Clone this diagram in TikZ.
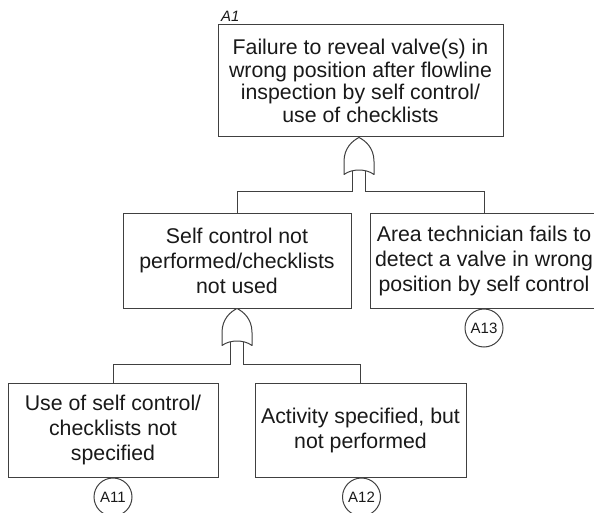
\documentclass[tikz,border=0pt]{standalone}
\usepackage{fontspec}
\setmainfont{Liberation Sans}
\usetikzlibrary{calc}
\begin{document}
\begin{tikzpicture}[x=1pt,y=-1pt,
  line width=1pt,
  event/.style={draw=black!75, fill=white, align=center, inner sep=0pt,
    text=black!90, font=\fontsize{21.3}{25}\selectfont},
  transfer/.style={draw=black!75, circle, minimum size=38pt, inner sep=0pt,
    text=black!90, font=\fontsize{15}{15}\selectfont},
  wire/.style={draw=black!75},
  gatebody/.style={draw=black!75, fill=white, line join=round}]
\useasboundingbox (0,0) rectangle (594,513);

% OR gate: apex at #1, outputs two stem coordinates #2 (left) and #3 (right)
\newcommand{\orgate}[3]{%
  \draw[gatebody] ($(#1)+(-15,37)$) -- ($(#1)+(-15,24)$)
    .. controls ($(#1)+(-15,10)$) and ($(#1)+(-6,3)$) .. (#1)
    .. controls ($(#1)+(6,3)$) and ($(#1)+(15,10)$) .. ($(#1)+(15,24)$)
    -- ($(#1)+(15,37)$)
    .. controls ($(#1)+(7,31)$) and ($(#1)+(-7,31)$) .. cycle;
  \coordinate (#2) at ($(#1)+(-6.5,33.5)$);
  \coordinate (#3) at ($(#1)+(6.5,33.5)$);}

% events
\node[event, font=\fontsize{21.3}{22.5}\selectfont, minimum width=285pt, minimum height=112pt] (top) at (360.5,81)
  {Failure to reveal valve(s) in\\wrong position after flowline\\inspection by self control/\\use of checklists};
\node[font=\fontsize{15}{15}\selectfont\itshape, text=black!90, anchor=south west, inner sep=0pt]
  (lblA1) at ($(top.north west)+(3,-2)$) {A1};

\node[event, minimum width=228pt, minimum height=95pt] (ml) at (237,260.5)
  {Self control not\\performed/checklists\\not used};
\node[event, minimum width=228pt, minimum height=95pt] (mr) at (484,260.5)
  {Area technician fails to\\detect a valve in wrong\\position by self control};

\node[event, minimum width=210pt, minimum height=94pt] (bl) at (113,430)
  {Use of self control/\\checklists not\\specified};
\node[event, minimum width=211pt, minimum height=94pt] (br) at (360.5,430)
  {Activity specified, but\\not performed};

% transfer symbols
\node[transfer, anchor=north] (tA13) at (mr.south) {A13};
\node[transfer, anchor=north] (tA11) at (bl.south) {A11};
\node[transfer, anchor=north] (tA12) at ($(br.south)+(1,0)$) {A12};

% gates
\coordinate (g1) at ($(top.south)+(-1.5,0)$);
\orgate{g1}{g1l}{g1r}
\coordinate (g2) at (ml.south);
\orgate{g2}{g2l}{g2r}

% connectors
\draw[wire] (g1l) -- ++(0,20.5) -| (ml.north);
\draw[wire] (g1r) -- ++(0,20.5) -| (mr.north);
\draw[wire] (g2l) -- ++(0,22.5) -| (bl.north);
\draw[wire] (g2r) -- ++(0,22.5) -| (br.north);
\end{tikzpicture}
\end{document}
